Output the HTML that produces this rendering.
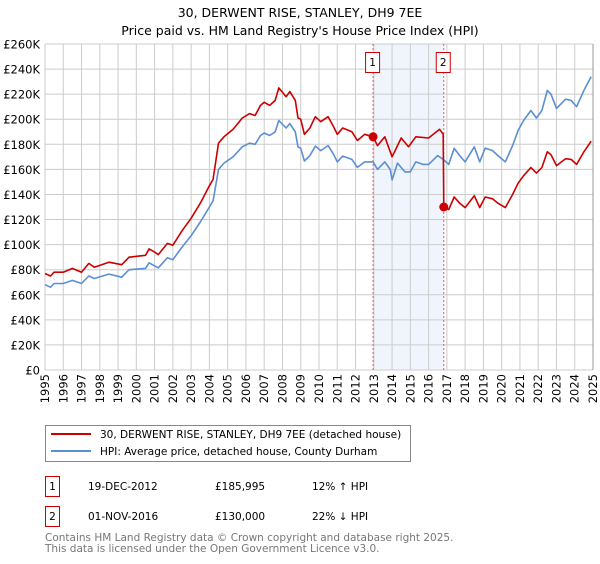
<!DOCTYPE html>
<html><head><meta charset="utf-8"><style>
body{margin:0;background:#fff;font-family:"DejaVu Sans","Liberation Sans",sans-serif;}
svg text{font-family:"DejaVu Sans","Liberation Sans",sans-serif;}
</style></head><body>
<svg id="chart" width="600" height="560" xmlns="http://www.w3.org/2000/svg">
<text x="300" y="17" text-anchor="middle" font-size="12.5" fill="#000">30, DERWENT RISE, STANLEY, DH9 7EE</text>
<text x="300" y="35" text-anchor="middle" font-size="12.5" fill="#000">Price paid vs. HM Land Registry's House Price Index (HPI)</text>
<g id="plot"></g>
<g>
<rect x="45.5" y="425.5" width="365" height="36" fill="#fff" stroke="#888"/>
<line x1="51" y1="434" x2="91" y2="434" stroke="#cc0000" stroke-width="2"/>
<text x="100" y="438" font-size="10.5">30, DERWENT RISE, STANLEY, DH9 7EE (detached house)</text>
<line x1="51" y1="451" x2="91" y2="451" stroke="#5b8fd4" stroke-width="2"/>
<text x="100" y="455" font-size="10.5">HPI: Average price, detached house, County Durham</text>
</g>
<g font-size="10.5">
<rect x="45.5" y="476.5" width="14" height="20" fill="#fff" stroke="#cc0000"/>
<text x="52.5" y="490" text-anchor="middle">1</text>
<text x="88" y="490">19-DEC-2012</text>
<text x="215" y="490">£185,995</text>
<text x="312" y="490">12% ↑ HPI</text>
<rect x="45.5" y="506.5" width="14" height="20" fill="#fff" stroke="#cc0000"/>
<text x="52.5" y="520" text-anchor="middle">2</text>
<text x="88" y="520">01-NOV-2016</text>
<text x="215" y="520">£130,000</text>
<text x="312" y="520">22% ↓ HPI</text>
</g>
<text x="45" y="541" font-size="10.5" fill="#777">Contains HM Land Registry data © Crown copyright and database right 2025.</text>
<text x="45" y="552" font-size="10.5" fill="#777">This data is licensed under the Open Government Licence v3.0.</text>
</svg>
<script>
const hpiYears=[1995,1995.3,1995.5,1996,1996.5,1997,1997.4,1997.7,1998.5,1999.2,1999.6,2000.5,2000.7,2001,2001.2,2001.7,2002,2002.5,2003,2003.5,2004,2004.2,2004.5,2004.8,2005.3,2005.8,2006.2,2006.5,2006.8,2007,2007.3,2007.6,2007.8,2008.2,2008.4,2008.7,2008.85,2009,2009.2,2009.5,2009.8,2010.1,2010.5,2010.8,2011,2011.3,2011.8,2012.1,2012.5,2012.96,2013.2,2013.6,2013.9,2014,2014.3,2014.7,2015,2015.3,2015.7,2016,2016.5,2016.8,2017.1,2017.4,2017.7,2018,2018.5,2018.8,2019.1,2019.5,2019.8,2020.2,2020.6,2020.9,2021.2,2021.6,2021.9,2022.2,2022.5,2022.7,2023,2023.5,2023.8,2024.1,2024.5,2024.9];
const hpiValues=[68,66,69,69,71.5,69,75,73,76.5,74,80,81,85.5,83,81.5,89.5,88,98,107,118,130,135,160,165,170,178,181,180,187,189,187,190,199,193,196.5,190,178,176.8,166.7,171,178.6,175,179,172,166,170.6,168,161.6,166,166,160,166,160,151.5,165,158,158,166,164,164,171,168,164,176.8,171,166,178,166,177,175,171,166,179,191,199,207,201,207,223,220,208.6,216,215,210,223,234];
const priceYears=[1995,1995.3,1995.5,1996,1996.5,1997,1997.4,1997.7,1998.5,1999.2,1999.6,2000.5,2000.7,2001,2001.2,2001.7,2002,2002.5,2003,2003.5,2004,2004.2,2004.5,2004.8,2005.3,2005.8,2006.2,2006.5,2006.8,2007,2007.3,2007.6,2007.8,2008.2,2008.4,2008.7,2008.85,2009,2009.2,2009.5,2009.8,2010.1,2010.5,2010.8,2011,2011.3,2011.8,2012.1,2012.5,2012.96,2013.2,2013.6,2014,2014.5,2014.9,2015.3,2016,2016.6,2016.8,2016.83,2017.1,2017.4,2017.7,2018,2018.5,2018.8,2019.1,2019.5,2019.8,2020.2,2020.6,2020.9,2021.2,2021.6,2021.9,2022.2,2022.5,2022.7,2023,2023.5,2023.8,2024.1,2024.5,2024.9];
const priceValues=[77,75,78,78,81,78,85,82,86,84,90,91.5,96.6,94,92,101,99.5,111,121,133,147,152,181,186,192,201,204.5,203,211,213.5,211,215,225,218,222,215,201,200,188,193,202,198,202,194,188,193,190,183,188,186,179,186,170,185,178,186,185,192,188,130,128,138,133,129.5,139,129.5,138,136.5,133,129.5,140,149,155,161.5,157,161.5,174,171.6,163,168.5,168,164,174,182.5];
const saleYears=[2012.96,2016.83];
const saleValues=[185.995,130];
const saleLabels=["1","2"];
const yTicks=[0,20,40,60,80,100,120,140,160,180,200,220,240,260];
const yTickLabels=["£0","£20K","£40K","£60K","£80K","£100K","£120K","£140K","£160K","£180K","£200K","£220K","£240K","£260K"];
const xTicks=[1995,1996,1997,1998,1999,2000,2001,2002,2003,2004,2005,2006,2007,2008,2009,2010,2011,2012,2013,2014,2015,2016,2017,2018,2019,2020,2021,2022,2023,2024,2025];

const NS="http://www.w3.org/2000/svg";
const L=45,R=593,T=44,B=370;
const X=v=>L+(v-1995)/30*(R-L);
const Y=v=>B-v/260*(B-T);
const g=document.getElementById('plot');
function mk(t,a){const e=document.createElementNS(NS,t);for(const k in a)e.setAttribute(k,a[k]);g.appendChild(e);return e;}
const shade=mk('rect',{x:X(saleYears[0]),y:T,width:X(saleYears[1])-X(saleYears[0]),height:B-T,fill:'#f0f4fd'});


yTicks.forEach((v,i)=>{
 const l=mk('line',{x1:L,x2:R,y1:Y(v),y2:Y(v),stroke:'#cccccc','stroke-width':1});
 
 
 const t=mk('text',{x:L-5,y:Y(v)+4.5,'text-anchor':'end','font-size':'11.5'});
 
 
 t.textContent=yTickLabels[i];
});
xTicks.forEach(v=>{
 const l=mk('line',{x1:X(v),x2:X(v),y1:T,y2:B,stroke:'#cccccc','stroke-width':1});
 
 
 const tx=X(v)+4, ty=B+4;
 const t=mk('text',{x:tx,y:ty,'text-anchor':'end','font-size':'11.5',transform:'rotate(-90 '+tx+' '+ty+')'});
 
 
 t.textContent=String(v);
});
const rb=mk('line',{x1:R,x2:R,y1:T,y2:B,stroke:'#999','stroke-width':1});


saleYears.forEach((v,i)=>{
 const l=mk('line',{x1:X(v),x2:X(v),y1:T,y2:B,stroke:'#e06060','stroke-width':1,'stroke-dasharray':'2,2'});
 
 
 const r=mk('rect',{x:X(v)-7.5,y:52.5,width:14,height:20,fill:'#fff',stroke:'#cc0000'});
 
 
 const t=mk('text',{x:X(v)-0.5,y:66,'text-anchor':'middle','font-size':'10.5'});
 
 
 t.textContent=saleLabels[i];
});
function line(xs,ys,c,name){
 const p=mk('polyline',{points:xs.map((x,i)=>X(x).toFixed(1)+','+Y(ys[i]).toFixed(1)).join(' '),fill:'none',stroke:c,'stroke-width':1.6,'stroke-linejoin':'round'});
 
 
}
line(hpiYears,hpiValues,'#5b8fd4','hpi-line');
line(priceYears,priceValues,'#cc0000','price-line');
saleYears.forEach((v,i)=>{
 const c=mk('circle',{cx:X(v),cy:Y(saleValues[i]),r:4.5,fill:'#cc0000'});
 
 
});
</script>
</body></html>
